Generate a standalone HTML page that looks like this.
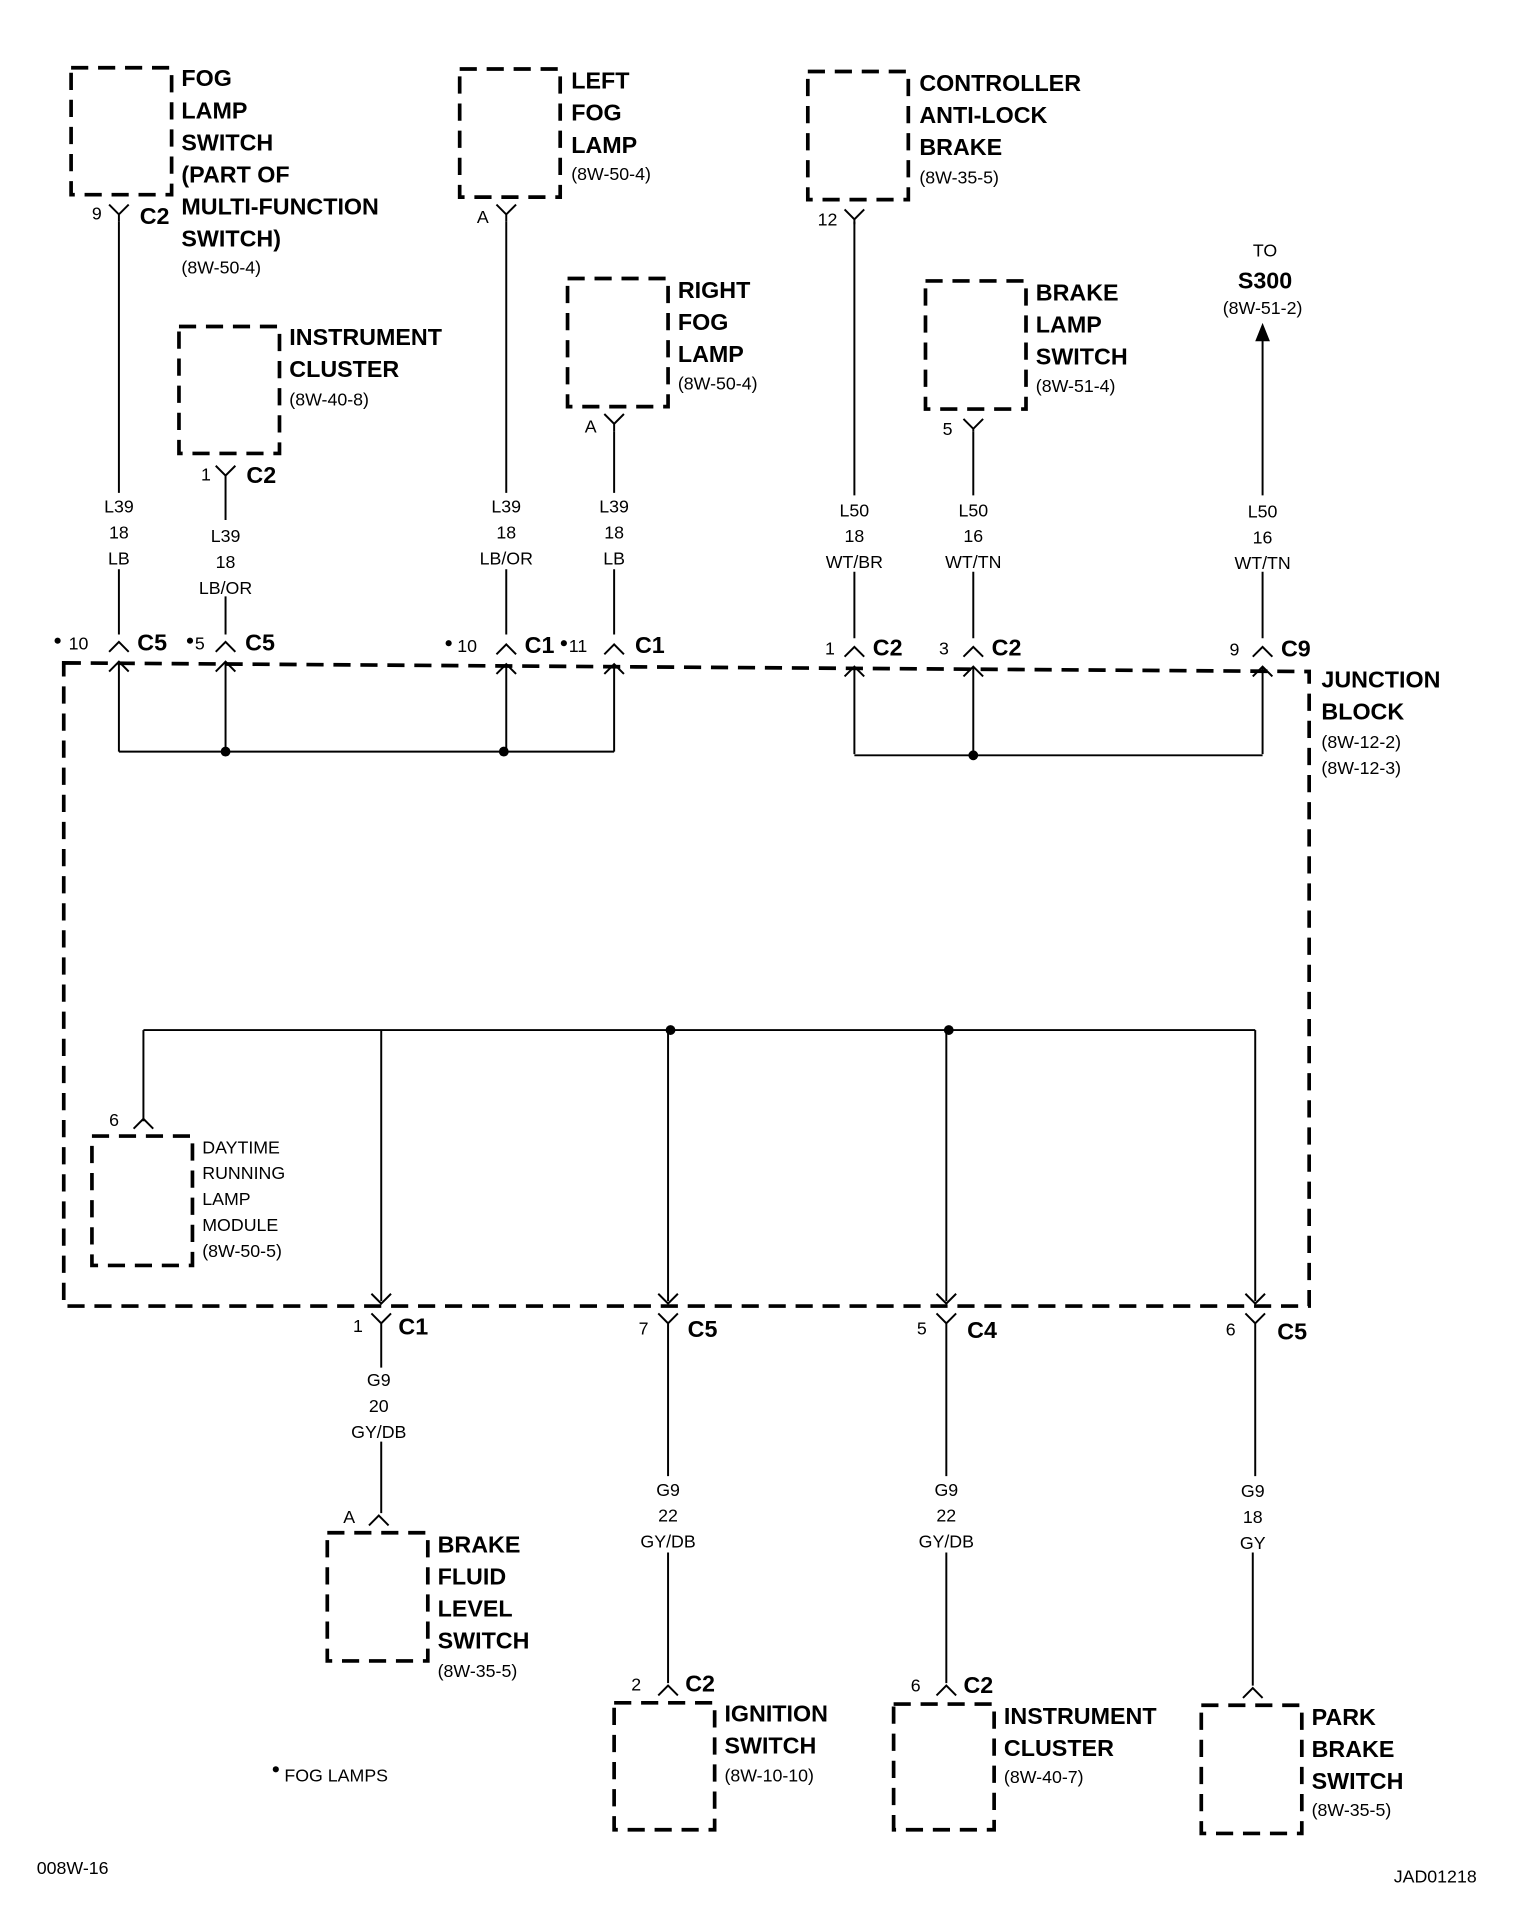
<!DOCTYPE html>
<html><head><meta charset="utf-8"><style>
html,body{margin:0;padding:0;background:#fff}
svg{display:block}
text{font-family:"Liberation Sans",sans-serif;fill:#000}
.b{font-weight:bold;font-size:19px}
.s{font-size:14.5px}
.m{font-size:14.5px;text-anchor:middle}
</style></head><body>
<svg width="1520" height="1932" viewBox="0 0 1240 1568" preserveAspectRatio="none" xmlns="http://www.w3.org/2000/svg">
<g fill="none" stroke="#000" stroke-width="3" stroke-dasharray="14 8">
<rect x="58" y="55" width="82" height="103"/>
<rect x="146" y="265" width="82" height="103"/>
<rect x="375" y="56" width="82" height="104"/>
<rect x="463" y="226" width="82" height="104"/>
<rect x="659" y="58" width="82" height="104"/>
<rect x="755" y="228" width="82" height="104"/>
<path d="M52 538 L1068 545 L1068 1060 L52 1060 Z"/>
<rect x="75" y="922" width="82" height="105"/>
<rect x="267" y="1244" width="82" height="104"/>
<rect x="501" y="1382" width="82" height="103"/>
<rect x="729" y="1383" width="82" height="102"/>
<rect x="980" y="1384" width="82" height="104"/>
</g>
<g fill="none" stroke="#000" stroke-width="1.6">
<path d="M97 180V400M97 462V515"/>
<path d="M184 392V422M184 484V515"/>
<path d="M413 180V400M413 462V515"/>
<path d="M501 350V400M501 462V515"/>
<path d="M697 180V402M697 464V518"/>
<path d="M794 350V402M794 464V518"/>
<path d="M1030 275V402M1030 464V518"/>
<path d="M89 166L97 174L105 166M97 174V180"/>
<path d="M176 378L184 386L192 378M184 386V392"/>
<path d="M405 166L413 174L421 166M413 174V180"/>
<path d="M493 336L501 344L509 336M501 344V350"/>
<path d="M689 170L697 178L705 170M697 178V182"/>
<path d="M786 340L794 348L802 340M794 348V350"/>
<path d="M89 529L97 521L105 529M89 545L97 537L105 545M97 537V610"/>
<path d="M176 529L184 521L192 529M176 545L184 537L192 545M184 537V610"/>
<path d="M405 531L413 523L421 531M405 547L413 539L421 547M413 539V610"/>
<path d="M493 531L501 523L509 531M493 547L501 539L509 547M501 539V610"/>
<path d="M689 533L697 525L705 533M689 549L697 541L705 549M697 541V612"/>
<path d="M786 533L794 525L802 533M786 549L794 541L802 549M794 541V612"/>
<path d="M1022 533L1030 525L1038 533M1022 549L1030 541L1038 549M1030 541V612"/>
<path d="M97 610H501M697 613H1030"/>
<path d="M117 836H1024M117 836V910M311 836V1056M545 836V1056M772 836V1056M1024 836V1056"/>
<path d="M109 916L117 908L125 916"/>
<path d="M303 1050L311 1058L319 1050M303 1066L311 1074L319 1066M311 1074V1110M311 1170V1228"/>
<path d="M537 1050L545 1058L553 1050M537 1066L545 1074L553 1066M545 1074V1198M545 1260V1366"/>
<path d="M764 1050L772 1058L780 1050M764 1066L772 1074L780 1066M772 1074V1198M772 1260V1366"/>
<path d="M1016 1050L1024 1058L1032 1050M1016 1066L1024 1074L1032 1066M1024 1074V1198M1022 1260V1368"/>
<path d="M301 1238L309 1230L317 1238"/>
<path d="M537 1376L545 1368L553 1376"/>
<path d="M764 1376L772 1368L780 1376"/>
<path d="M1014 1378L1022 1370L1030 1378"/>
</g>
<path d="M1030 262L1024 277H1036Z" fill="#000"/>
<g fill="#000"><circle cx="184" cy="610" r="4"/><circle cx="411" cy="610" r="4"/><circle cx="794" cy="613" r="4"/><circle cx="547" cy="836" r="4"/><circle cx="774" cy="836" r="4"/>
<circle cx="47" cy="520" r="2.5"/><circle cx="155" cy="520" r="2.5"/><circle cx="366" cy="522" r="2.5"/><circle cx="460" cy="522" r="2.5"/><circle cx="225" cy="1436" r="2.5"/></g>
<text class="b" x="148" y="70">FOG</text><text class="b" x="148" y="96">LAMP</text><text class="b" x="148" y="122">SWITCH</text><text class="b" x="148" y="148">(PART OF</text><text class="b" x="148" y="174">MULTI-FUNCTION</text><text class="b" x="148" y="200">SWITCH)</text><text class="s" x="148" y="222">(8W-50-4)</text>
<text class="s" x="75" y="178">9</text><text class="b" x="114" y="182">C2</text>
<text class="b" x="236" y="280">INSTRUMENT</text><text class="b" x="236" y="306">CLUSTER</text><text class="s" x="236" y="329">(8W-40-8)</text>
<text class="s" x="164" y="390">1</text><text class="b" x="201" y="392">C2</text>
<text class="b" x="466" y="72">LEFT</text><text class="b" x="466" y="98">FOG</text><text class="b" x="466" y="124">LAMP</text><text class="s" x="466" y="146">(8W-50-4)</text>
<text class="s" x="389" y="181">A</text>
<text class="b" x="553" y="242">RIGHT</text><text class="b" x="553" y="268">FOG</text><text class="b" x="553" y="294">LAMP</text><text class="s" x="553" y="316">(8W-50-4)</text>
<text class="s" x="477" y="351">A</text>
<text class="b" x="750" y="74">CONTROLLER</text><text class="b" x="750" y="100">ANTI-LOCK</text><text class="b" x="750" y="126">BRAKE</text><text class="s" x="750" y="149">(8W-35-5)</text>
<text class="s" x="667" y="183">12</text>
<text class="b" x="845" y="244">BRAKE</text><text class="b" x="845" y="270">LAMP</text><text class="b" x="845" y="296">SWITCH</text><text class="s" x="845" y="318">(8W-51-4)</text>
<text class="s" x="769" y="353">5</text>
<text class="m" x="1032" y="208">TO</text><text class="b" x="1032" y="234" text-anchor="middle">S300</text><text class="m" x="1030" y="255">(8W-51-2)</text>
<text class="m" x="97" y="416">L39</text><text class="m" x="97" y="437">18</text><text class="m" x="97" y="458">LB</text>
<text class="m" x="184" y="440">L39</text><text class="m" x="184" y="461">18</text><text class="m" x="184" y="482">LB/OR</text>
<text class="m" x="413" y="416">L39</text><text class="m" x="413" y="437">18</text><text class="m" x="413" y="458">LB/OR</text>
<text class="m" x="501" y="416">L39</text><text class="m" x="501" y="437">18</text><text class="m" x="501" y="458">LB</text>
<text class="m" x="697" y="419">L50</text><text class="m" x="697" y="440">18</text><text class="m" x="697" y="461">WT/BR</text>
<text class="m" x="794" y="419">L50</text><text class="m" x="794" y="440">16</text><text class="m" x="794" y="461">WT/TN</text>
<text class="m" x="1030" y="420">L50</text><text class="m" x="1030" y="441">16</text><text class="m" x="1030" y="462">WT/TN</text>
<text class="s" x="56" y="527">10</text><text class="b" x="112" y="528">C5</text>
<text class="s" x="159" y="527">5</text><text class="b" x="200" y="528">C5</text>
<text class="s" x="373" y="529">10</text><text class="b" x="428" y="530">C1</text>
<text class="s" x="464" y="529">11</text><text class="b" x="518" y="530">C1</text>
<text class="s" x="673" y="531">1</text><text class="b" x="712" y="532">C2</text>
<text class="s" x="766" y="531">3</text><text class="b" x="809" y="532">C2</text>
<text class="s" x="1003" y="532">9</text><text class="b" x="1045" y="533">C9</text>
<text class="b" x="1078" y="558">JUNCTION</text><text class="b" x="1078" y="584">BLOCK</text><text class="s" x="1078" y="607">(8W-12-2)</text><text class="s" x="1078" y="628">(8W-12-3)</text>
<text class="s" x="89" y="914">6</text>
<text class="s" x="165" y="936">DAYTIME</text><text class="s" x="165" y="957">RUNNING</text><text class="s" x="165" y="978">LAMP</text><text class="s" x="165" y="999">MODULE</text><text class="s" x="165" y="1020">(8W-50-5)</text>
<text class="s" x="288" y="1081">1</text><text class="b" x="325" y="1083">C1</text>
<text class="s" x="521" y="1083">7</text><text class="b" x="561" y="1085">C5</text>
<text class="s" x="748" y="1083">5</text><text class="b" x="789" y="1086">C4</text>
<text class="s" x="1000" y="1084">6</text><text class="b" x="1042" y="1087">C5</text>
<text class="m" x="309" y="1125">G9</text><text class="m" x="309" y="1146">20</text><text class="m" x="309" y="1167">GY/DB</text>
<text class="m" x="545" y="1214">G9</text><text class="m" x="545" y="1235">22</text><text class="m" x="545" y="1256">GY/DB</text>
<text class="m" x="772" y="1214">G9</text><text class="m" x="772" y="1235">22</text><text class="m" x="772" y="1256">GY/DB</text>
<text class="m" x="1022" y="1215">G9</text><text class="m" x="1022" y="1236">18</text><text class="m" x="1022" y="1257">GY</text>
<text class="s" x="280" y="1236">A</text>
<text class="b" x="357" y="1260">BRAKE</text><text class="b" x="357" y="1286">FLUID</text><text class="b" x="357" y="1312">LEVEL</text><text class="b" x="357" y="1338">SWITCH</text><text class="s" x="357" y="1361">(8W-35-5)</text>
<text class="s" x="515" y="1372">2</text><text class="b" x="559" y="1373">C2</text>
<text class="b" x="591" y="1397">IGNITION</text><text class="b" x="591" y="1423">SWITCH</text><text class="s" x="591" y="1446">(8W-10-10)</text>
<text class="s" x="743" y="1373">6</text><text class="b" x="786" y="1374">C2</text>
<text class="b" x="819" y="1399">INSTRUMENT</text><text class="b" x="819" y="1425">CLUSTER</text><text class="s" x="819" y="1447">(8W-40-7)</text>
<text class="b" x="1070" y="1400">PARK</text><text class="b" x="1070" y="1426">BRAKE</text><text class="b" x="1070" y="1452">SWITCH</text><text class="s" x="1070" y="1474">(8W-35-5)</text>
<text class="s" x="232" y="1446">FOG LAMPS</text>
<text class="s" x="30" y="1521">008W-16</text>
<text class="s" x="1137" y="1528">JAD01218</text>
</svg>
</body></html>
